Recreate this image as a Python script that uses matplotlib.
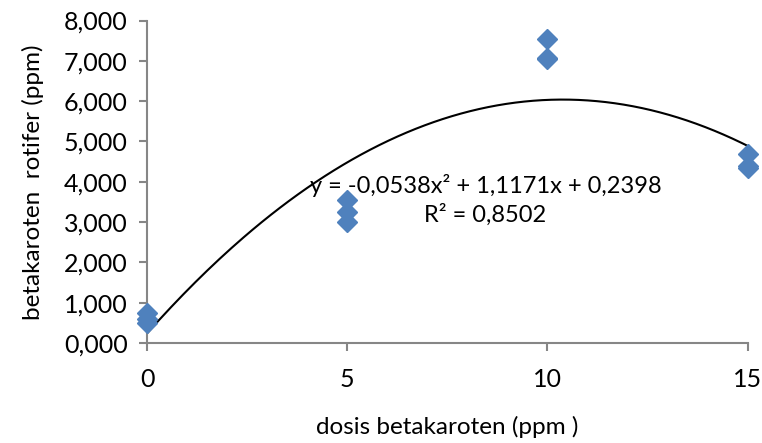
import numpy as np
import matplotlib
matplotlib.use("Agg")
import matplotlib.pyplot as plt
from matplotlib.ticker import FuncFormatter

plt.rcParams['font.family'] = ['Lato', 'DejaVu Sans']

# data
dosis = [0, 0, 0, 5, 5, 5, 10, 10, 10, 15, 15, 15]
betakaroten = [0.75, 0.60, 0.50, 3.55, 3.25, 3.00, 7.55, 7.05, 7.08, 4.70, 4.40, 4.35]
coef = [-0.0538, 1.1171, 0.2398]
r2 = 0.8502

fig = plt.figure(figsize=(7.62, 4.43), dpi=100)
ax = fig.add_axes([0.193, 0.2257, 0.788, 0.728])

xs = np.linspace(0, 15, 200)
ax.plot(xs, np.polyval(coef, xs), color='black', lw=1.5, zorder=2)
ax.plot(dosis, betakaroten, 'D', color='#4F81BD', ms=10, mec='#4F81BD',
        clip_on=False, zorder=3)

ax.set_xlim(0, 15)
ax.set_ylim(0, 8)
ax.set_xticks([0, 5, 10, 15])
ax.set_yticks(range(0, 9))
ax.yaxis.set_major_formatter(FuncFormatter(lambda v, p: f"{v:.3f}".replace('.', ',')))

for s in ['top', 'right']:
    ax.spines[s].set_visible(False)
for s in ['left', 'bottom']:
    ax.spines[s].set_color('#868686')
    ax.spines[s].set_linewidth(1.5)
ax.tick_params(direction='out', length=6, width=1.5, color='#868686',
               labelsize=18)
ax.tick_params(axis='y', pad=8)
ax.tick_params(axis='x', pad=12)

ax.set_xlabel('dosis betakaroten (ppm )', fontsize=17.5, labelpad=18)
ax.set_ylabel('betakaroten  rotifer (ppm)', fontsize=17.5, labelpad=14)

eq = f"y = {coef[0]:.4f}x² + {coef[1]:.4f}x + {coef[2]:.4f}".replace('.', ',')
ax.text(8.45, 3.9, eq, ha='center', va='center', fontsize=17)
ax.text(8.45, 3.17, f"R² = {r2:.4f}".replace('.', ','), ha='center', va='center',
        fontsize=17)

fig.savefig('out.png', dpi=100)
